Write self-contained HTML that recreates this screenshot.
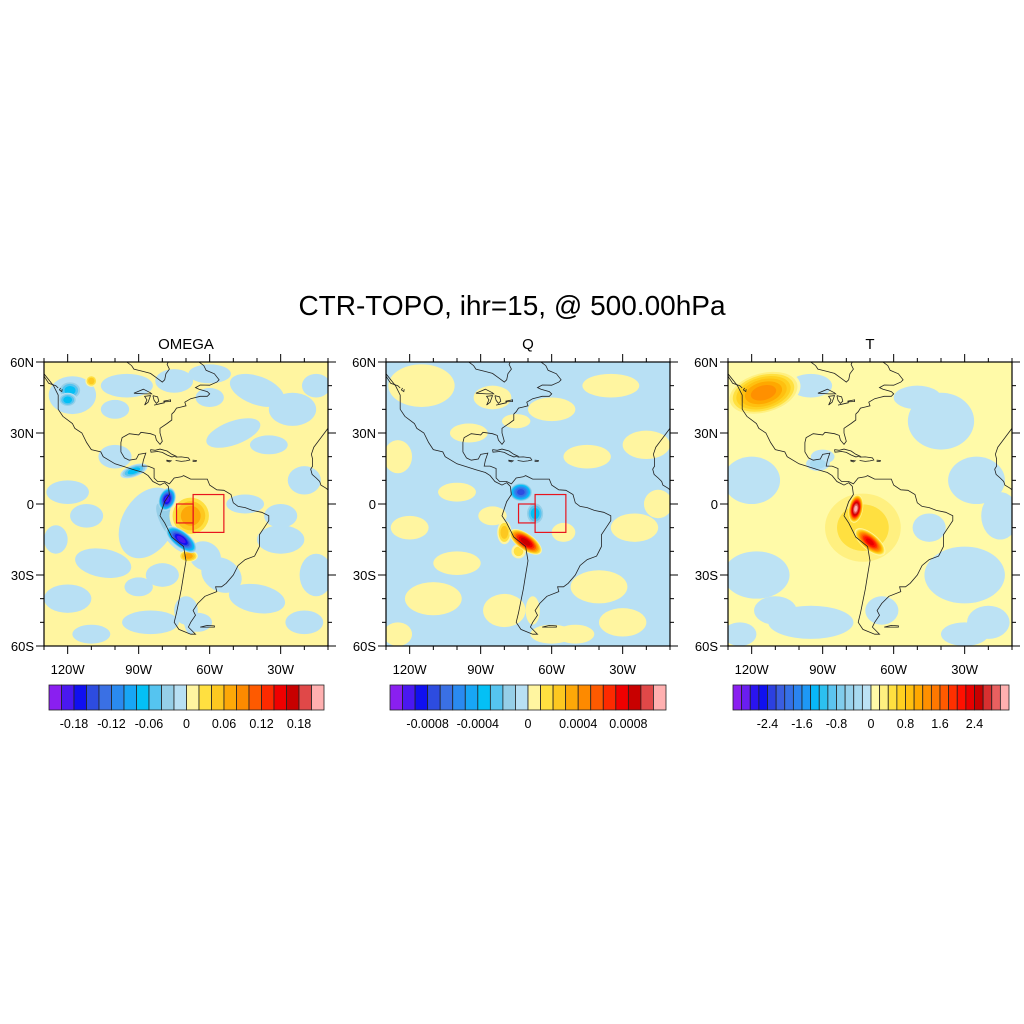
<!DOCTYPE html>
<html><head><meta charset="utf-8"><style>
html,body{margin:0;padding:0;background:#fff;}
svg{display:block;font-family:"Liberation Sans",sans-serif;}
</style></head><body>
<svg id="fig" width="1024" height="1024" viewBox="0 0 1024 1024">
<text x="512" y="315" font-size="28" text-anchor="middle">CTR-TOPO, ihr=15, @ 500.00hPa</text>
</svg>
<script>
// ---------- data ----------
const palette22 = ["#8a1ff0","#4a18f0","#1010f0","#2d4ce0","#3a70e4","#2a8af0","#18a6f5","#04c0f5","#55c4f0","#96cfe8","#b8e0f4","#fff5a0","#ffe040","#fdc820","#fda808","#fd8a00","#fe5a00","#fd2a00","#f00000","#c80000","#e04848","#ffb0b0"];
const palette32 = ["#8a1ff0","#6a1ef0","#2a14f0","#1010f0","#2c40e0","#3a5ee0","#3570e6","#2a84f0","#1e98f5","#08b8f8","#2cc0f0","#5cc4f0","#80ccec","#98d2ec","#a8daf0","#bce2f4","#fffaa8","#fff080","#ffe040","#ffd020","#ffc010","#ffa800","#ff9000","#ff7800","#ff5a00","#ff3000","#ff1000","#e80000","#c80000","#d83030","#e86060","#ffb0b0"];
const panelTitles = ["OMEGA","Q","T"];
const omegaLabels = ["-0.18","-0.12","-0.06","0","0.06","0.12","0.18"];
const omegaLabelIdx = [2,5,8,11,14,17,20];
const qLabels = ["-0.0008","-0.0004","0","0.0004","0.0008"];
const qLabelIdx = [3,7,11,15,19];
const tLabels = ["-2.4","-1.6","-0.8","0","0.8","1.6","2.4"];
const tLabelIdx = [4,8,12,16,20,24,28];
const lonTicks = [120,90,60,30];
const latTicks = ["60N","30N","0","30S","60S"];
const latTickVals = [60,30,0,-30,-60];
// blobs: lon, lat, rx(deg), ry(deg), rotation(deg), level
const omegaLon = [-118,-95,-75,-40,-25,-50,-100,-120,-105,-120,-85,-40,-30,-20,-55,-86,-60,-112,-70,-15,-80,-100,-60,-35,-15,-125,-110,-90,-45,-20,-65,-30,  -78,-72,-92,-119,-120,-68,-69,-110,-62,-68,-77];
const omegaLat = [46,50,52,48,40,30,20,5,-25,-40,-50,-40,-15,10,-30,-8,55,-5,-45,-30,-30,40,45,25,50,-15,-55,-35,0,-50,-50,-5,  2,-15,14,48,44,-5,-22,52,-22,-48,-8];
const omegaRx  = [10,11,8,12,10,12,7,9,12,10,12,12,10,7,9,11,9,7,5,7,7,6,6,8,6,5,8,6,8,8,6,7,  3.5,8,6,5,4,9,4,2.5,7,3,14];
const omegaRy  = [8,5,5,6,7,5,5,5,6,6,5,6,6,6,7,16,4,5,6,9,5,4,4,4,5,6,4,4,4,5,4,5,  5,3.5,2.5,4,3,9,2.5,2.5,6,7,5];
const omegaRot = [0,0,0,20,0,-20,0,0,10,0,0,10,0,0,30,30,0,0,0,0,0,0,0,0,0,0,0,0,0,0,0,0,  20,38,-20,0,0,0,0,0,30,0,60];
const omegaLev = [-1,-1,-1,-1,-1,-1,-1,-1,-1,-1,-1,-1,-1,-1,-1,-1,-1,-1,-1,-1,-1,-1,-1,-1,-1,-1,-1,-1,-1,-1,-1,-1,  -10,-10,-4,-4,-4,4,4,3,-1,-1,-2];
const qLon = [-115,-85,-60,-35,-20,-45,-125,-110,-80,-40,-25,-120,-60,-68,-95,-100,-30,-125,-85,-55,-100,-15,-50,-75,  -73,-67,-71,-80,-74];
const qLat = [50,45,40,50,25,20,20,-40,-45,-35,-10,-10,-55,-45,30,-25,-50,-55,-5,-12,5,0,-55,35,  5,-4,-16,-12,-20];
const qRx  = [14,8,10,12,10,10,6,12,9,12,10,8,9,3,8,10,10,6,6,5,8,6,8,6,  5,4,8,3,3];
const qRy  = [9,5,5,5,6,5,7,7,7,7,6,5,4,6,4,5,6,5,4,4,4,6,4,3,  4,5,3.5,5,3];
const qRot = [0,0,0,0,0,0,0,0,0,0,0,0,0,0,0,0,0,0,0,0,0,0,0,0,  0,0,35,0,0];
const qLev = [1,1,1,1,1,1,1,1,1,1,1,1,1,1,1,1,1,1,1,1,1,1,1,1,  -8,-4,9,3,2];
const tLon = [-120,-118,-95,-40,-25,-30,-50,-65,-95,-110,-20,-45,-125,-90,-15,-30,  -115,-73,-76,-70,-92];
const tLat = [10,-30,-50,35,10,-30,45,-45,50,-45,-50,-10,-55,20,-5,-55,  47,-10,-2,-16,17];
const tRx  = [12,14,18,14,12,17,10,7,9,9,9,7,7,5,8,10,  16,20,3,8,5];
const tRy  = [10,10,7,12,10,12,5,6,5,6,7,6,5,3,10,5,  9,18,6,3.5,3];
const tRot = [0,0,0,0,0,0,0,0,0,0,0,0,0,0,0,0,  -15,0,10,40,0];
const tLev = [-1,-1,-1,-1,-1,-1,-1,-1,-1,-1,-1,-1,-1,-1,-1,-1,  7,3,16,12,-2];
// boxes: lonW, lonE, latN, latS
const boxLonW = [-67,-74];
const boxLonE = [-54,-67];
const boxLatN = [4,0];
const boxLatS = [-12,-8];
// coastlines (lon,lat pairs)
const coasts = [
 [[-130,55],[-126,50],[-124,46],[-124,40],[-122,37],[-118,34],[-117,32],[-114,30],[-112,26],[-110,23],[-106,22],[-105,20],[-100,17],[-96,15.7],[-92,14.5],[-88,13.3],[-86,12],[-84,9.5],[-81,8],[-79,9],[-77.5,7.5],[-77,4],[-79,1],[-80,-2],[-81,-5],[-79,-8],[-76,-14],[-71,-18],[-70,-24],[-71,-30],[-72,-36],[-73,-41],[-74,-46],[-75,-50],[-73,-53],[-68,-55],[-66,-55],[-69,-52],[-68,-50],[-66,-47],[-67,-45],[-65,-42],[-62,-39],[-57,-37],[-57.5,-35],[-55,-35],[-53,-33.5],[-50,-30],[-48,-26],[-45,-23.5],[-41,-22],[-39,-18],[-39,-13],[-37,-10],[-35,-7],[-35,-5],[-38,-3.5],[-42,-2.7],[-45,-1.5],[-48,-1],[-50,0.5],[-51,4],[-54,5.8],[-57,6],[-60,8],[-61,10.5],[-64,10.5],[-68,10.5],[-71,12],[-72,11.5],[-75,11],[-77,8.5],[-79,9.5],[-82,9.5],[-83.5,11],[-83.5,15],[-86,16],[-88.5,16],[-88,18.5],[-87,21.5],[-90,21],[-91,19],[-94,18.5],[-96,19.5],[-97.5,22],[-97.5,26],[-97,28],[-94,29.7],[-90,29.2],[-89,30.3],[-85,29.7],[-83,29],[-82.5,27],[-81,25.2],[-80,26.5],[-81,30],[-81,32],[-78,34],[-76,35.5],[-76,38],[-75,39],[-74,40.5],[-72,41],[-70,41.5],[-70.5,43],[-68,44.5],[-66,45],[-64,45.5],[-61,45.5],[-60,46.5],[-61,47.5],[-64.5,48.5],[-66,49.2],[-64,50.3],[-60,50.2],[-57,51.5],[-56,52.5],[-58,55],[-61.5,56.5],[-62.5,58.5],[-64.5,60]],
 [[-95,60],[-93,58.5],[-92,57],[-88,56],[-85,55.2],[-82,53],[-80,51.5],[-79,52.5],[-78.5,55],[-77,57],[-78,59],[-77.5,60]],
 [[-85,23],[-83,22.7],[-81,23.2],[-78,22.4],[-76,21],[-74.2,20.2],[-76,19.9],[-78,20.7],[-80,21.8],[-82,22.2],[-84.8,21.9],[-85,23]],
 [[-74.4,19.8],[-72,19.9],[-69,19.5],[-68.4,18.6],[-70,18.2],[-72,18],[-74.4,18.4]],
 [[-67.2,18.5],[-65.6,18.4],[-65.7,18],[-67.2,18]],
 [[-78.3,18.5],[-76.3,18.2],[-77,17.8],[-78.3,18.2]],
 [[-92,46.8],[-88,48.5],[-85,47],[-84.5,46.5],[-87.5,46.5],[-92,46.8]],
 [[-87.5,41.8],[-86.5,44],[-87.5,45.5],[-85,45.8],[-86,43],[-87.5,41.8]],
 [[-84,45.8],[-82,45.3],[-81.5,43.5],[-82.5,42.5],[-83.5,43.8],[-84,45.8]],
 [[-83.5,41.8],[-79,42.8],[-80.5,42.5],[-83.5,41.8]],
 [[-79.5,43.5],[-76.5,44],[-76.5,43.3],[-79.5,43.2]],
 [[-10,36],[-10,32],[-13,28],[-16,24],[-17,21],[-16.5,19],[-16.5,16],[-17.3,14.7],[-16.7,12.5],[-15,11],[-13.5,9.5],[-13,8],[-11,6.8],[-10,6]],
 [[-124,49],[-125,50],[-128,51],[-130,54]],
 [[-64,-52],[-58,-52],[-58,-51.5],[-61,-51.3],[-64,-52]],
 [[-123,49],[-123.5,48.2],[-122.5,47.5],[-122.3,48.5]]
];
// ---------- geometry ----------
const svg = document.getElementById('fig');
const NS = "http://www.w3.org/2000/svg";
const panelX0 = [44,386,728];
const PY0 = 362, PW = 284, PH = 284;
function xs(p, lon){ return panelX0[p] + (lon + 130) * PW / 120; }
function ys(lat){ return PY0 + (60 - lat) * PH / 120; }
function mk(tag, attrs, parent){ const e=document.createElementNS(NS,tag); for(const k in attrs) e.setAttribute(k,attrs[k]); (parent||svg).appendChild(e); return e; }
function levColor(pal, lev){ const mid = pal.length/2; return lev>0 ? pal[mid-1+lev] : pal[mid+lev]; }

const fields = [
 {pal:palette22, bg:1, lon:omegaLon, lat:omegaLat, rx:omegaRx, ry:omegaRy, rot:omegaRot, lev:omegaLev, labels:omegaLabels, idx:omegaLabelIdx, boxes:true},
 {pal:palette22, bg:-1, lon:qLon, lat:qLat, rx:qRx, ry:qRy, rot:qRot, lev:qLev, labels:qLabels, idx:qLabelIdx, boxes:true},
 {pal:palette32, bg:1, lon:tLon, lat:tLat, rx:tRx, ry:tRy, rot:tRot, lev:tLev, labels:tLabels, idx:tLabelIdx, boxes:false}
];
const k = PW/120;
fields.forEach((f,p)=>{
  const x0 = panelX0[p];
  const g = mk('g',{});
  
  
  const cid = 'clip'+p;
  const cp = mk('clipPath',{id:cid},g); mk('rect',{x:x0,y:PY0,width:PW,height:PH},cp);
  const fg = mk('g',{'clip-path':'url(#'+cid+')'},g);
  const bgr = mk('rect',{x:x0,y:PY0,width:PW,height:PH,fill:levColor(f.pal,f.bg)},fg);
  
  
  const order = f.lon.map((_,i)=>i).sort((a,b)=>Math.abs(f.lev[a])-Math.abs(f.lev[b]));
  order.forEach(i=>{
    const L = f.lev[i], n = Math.abs(L), s = Math.sign(L);
    const cx = xs(p,f.lon[i]), cy = ys(f.lat[i]);
    for(let j=1;j<=n;j++){
      const sc = Math.pow((n-j+1)/n, 0.55);
      const e = mk('ellipse',{cx:cx,cy:cy,rx:f.rx[i]*k*sc,ry:f.ry[i]*k*sc,transform:'rotate('+f.rot[i]+' '+cx+' '+cy+')',fill:levColor(f.pal,s*j)},fg);
      
      
    }
  });
  coasts.forEach(c=>{
    const pl = mk('polyline',{points:c.map(q=>xs(p,q[0]).toFixed(1)+','+ys(q[1]).toFixed(1)).join(' '),fill:'none',stroke:'#222',"stroke-width":0.8},fg);
    
    
  });
  if(f.boxes){
    for(let b=0;b<boxLonW.length;b++){
      const r = mk('rect',{x:xs(p,boxLonW[b]),y:ys(boxLatN[b]),width:xs(p,boxLonE[b])-xs(p,boxLonW[b]),height:ys(boxLatS[b])-ys(boxLatN[b]),fill:'none',stroke:'#e8141e',"stroke-width":1.2},fg);
      
      
    }
  }
  const fr = mk('rect',{x:x0,y:PY0,width:PW,height:PH,fill:'none',stroke:'#000',"stroke-width":1.2},g);
  
  
  for(let lon=-130;lon<=-10;lon+=10){
    const x = xs(p,lon), major = (lon%30===0);
    const len = major?8:4;
    mk('line',{x1:x,x2:x,y1:PY0,y2:PY0-len,stroke:'#000'},g);
    mk('line',{x1:x,x2:x,y1:PY0+PH,y2:PY0+PH+len,stroke:'#000'},g);
  }
  for(let lat=-60;lat<=60;lat+=10){
    const y = ys(lat), major = (lat%30===0);
    const len = major?8:4;
    mk('line',{x1:x0,x2:x0-len,y1:y,y2:y,stroke:'#000'},g);
    mk('line',{x1:x0+PW,x2:x0+PW+len,y1:y,y2:y,stroke:'#000'},g);
  }
  lonTicks.forEach(v=>{
    const t = mk('text',{x:xs(p,-v),y:674,"font-size":13,"text-anchor":"middle"},g);
    t.textContent = v+'W';
    
    
  });
  latTicks.forEach((s,i)=>{
    const t = mk('text',{x:x0-10,y:ys(latTickVals[i])+5,"font-size":13,"text-anchor":"end"},g);
    t.textContent = s;
    
    
  });
  const st = mk('text',{x:x0+PW/2,y:349,"font-size":15,"text-anchor":"middle"},g);
  st.textContent = panelTitles[p];
  
  
  const cb = mk('g',{},svg);
  
  
  const cbX = [49,390,733][p], cbW = [275,276,276][p], cbY = 685, cbH = 25;
  const n = f.pal.length, bw = cbW/n;
  f.pal.forEach((c,i)=>{
    const r = mk('rect',{x:cbX+i*bw,y:cbY,width:bw,height:cbH,fill:c,stroke:'#222',"stroke-width":0.8},cb);
    
    
  });
  f.labels.forEach((s,i)=>{
    const t = mk('text',{x:cbX+f.idx[i]*bw,y:728,"font-size":12.5,"text-anchor":"middle"},cb);
    t.textContent = s;
    
    
  });
});
</script>
</body></html>
